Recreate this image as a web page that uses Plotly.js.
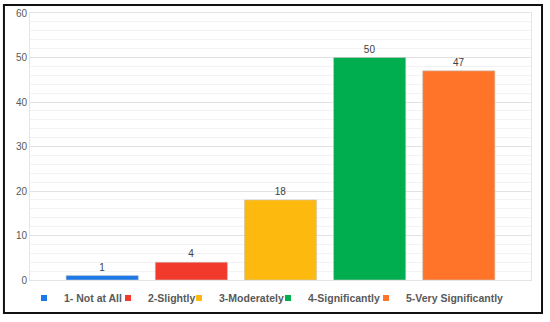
<!DOCTYPE html>
<html>
<head>
<meta charset="utf-8">
<script src="https://cdn.plot.ly/plotly-3.0.1.min.js"></script>
<style>
html,body{margin:0;padding:0;background:#fff;}
#chart{width:550px;height:322px;}
</style>
</head>
<body>
<div id="chart"></div>
<script>
var categories = ["1- Not at All", "2-Slightly", "3-Moderately", "4-Significantly", "5-Very Significantly"];
var values = [1, 4, 18, 50, 47];
var colors = ["#1C78E8", "#F23A2C", "#FDB90E", "#00AD4F", "#FF7428"];
var yTicks = [0, 10, 20, 30, 40, 50, 60];

// legend item left edges (paper fraction) – layout only
var legendX = [-0.012, 0.1557, 0.2974, 0.475, 0.6707];

var traces = [];
for (var i = 0; i < categories.length; i++) {
  traces.push({
    type: "bar",
    x: [categories[i]],
    y: [values[i]],
    name: categories[i],
    width: 0.81,
    marker: {color: colors[i], line: {color: "rgba(200,200,200,0.6)", width: 1}},
    text: [String(values[i])],
    textposition: "outside",
    cliponaxis: false,
    textfont: {family: "Liberation Sans, Arial, sans-serif", size: 10, color: "#404040"},
    showlegend: false,
    hoverinfo: "x+y"
  });
}
for (var j = 0; j < categories.length; j++) {
  traces.push({
    type: "scatter",
    mode: "markers",
    x: [categories[j]],
    y: [null],
    name: categories[j],
    legend: j === 0 ? "legend" : "legend" + (j + 1),
    marker: {color: colors[j], symbol: "square", size: 6},
    showlegend: true
  });
}

var layout = {
  width: 550,
  height: 322,
  margin: {l: 30, r: 19, t: 13, b: 42, autoexpand: false},
  paper_bgcolor: "#ffffff",
  plot_bgcolor: "#ffffff",
  barmode: "overlay",
  showlegend: true,
  font: {family: "Liberation Sans, Arial, sans-serif", color: "#595959"},
  xaxis: {
    type: "category",
    range: [-0.81, 4.81],
    showticklabels: false,
    showgrid: false,
    zeroline: false,
    showline: true,
    mirror: true,
    linecolor: "#e4e4e4",
    linewidth: 1,
    fixedrange: true
  },
  yaxis: {
    range: [0, 60],
    tickvals: yTicks,
    ticktext: yTicks.map(String),
    tickfont: {size: 10, color: "#595959"},
    showgrid: true,
    gridcolor: "#e2e2e2",
    gridwidth: 1,
    minor: {dtick: 2, showgrid: true, gridcolor: "#f3f3f3", gridwidth: 1},
    zeroline: false,
    showline: true,
    mirror: true,
    linecolor: "#e4e4e4",
    ticks: "",
    ticklen: 0,
    fixedrange: true
  },
  shapes: [{
    type: "rect",
    xref: "paper", yref: "paper",
    x0: -0.052, x1: 1.022,
    y0: -0.1236, y1: 1.03,
    line: {color: "#111111", width: 2},
    fillcolor: "rgba(0,0,0,0)",
    layer: "above"
  }]
};

for (var k = 0; k < categories.length; k++) {
  var key = k === 0 ? "legend" : "legend" + (k + 1);
  layout[key] = {
    orientation: "h",
    x: legendX[k],
    xanchor: "left",
    y: -0.067,
    yanchor: "middle",
    font: {size: 10.5, color: "#595959", weight: "bold"},
    itemwidth: 30,
    bgcolor: "rgba(0,0,0,0)",
    borderwidth: 0
  };
}

Plotly.newPlot("chart", traces, layout, {displayModeBar: false, staticPlot: true});
</script>
</body>
</html>
